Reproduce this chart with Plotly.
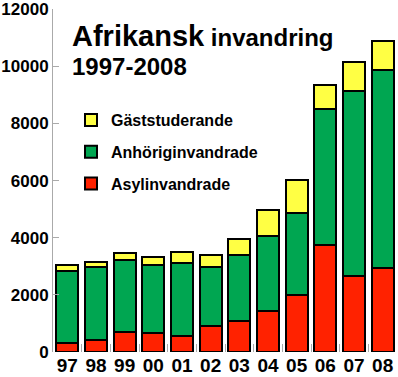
import plotly.graph_objects as go

years = ["97", "98", "99", "00", "01", "02", "03", "04", "05", "06", "07", "08"]
asyl = [330, 420, 700, 665, 570, 910, 1075, 1435, 1985, 3730, 2660, 2950]
anhorig = [2515, 2540, 2520, 2390, 2530, 2075, 2330, 2610, 2880, 4795, 6485, 6920]
gast = [200, 190, 230, 265, 390, 405, 535, 935, 1155, 815, 1015, 1010]

y_ticks = [0, 2000, 4000, 6000, 8000, 10000, 12000]

FONT = "Liberation Sans, Arial, sans-serif"
W, H = 398, 377
L, R, T, B = 53, 1, 9, 25

fig = go.Figure()
series = [("Asylinvandrade", asyl, "#FF2200", 3),
          ("Anhöriginvandrade", anhorig, "#00A651", 2),
          ("Gäststuderande", gast, "#FFFF44", 1)]
for name, vals, col, rank in series:
    fig.add_trace(go.Bar(
        x=years, y=vals, name=name, legendgroup=name, legendrank=rank,
        marker=dict(color=col, line=dict(color="black", width=2)),
    ))

pw = W - L - R
ph = H - T - B
def px_x(px):
    return (px - L) / pw
def px_y(py):
    return (H - B - py) / ph

fig.add_annotation(
    xref="paper", yref="paper", x=px_x(70), y=px_y(47), xanchor="left", yanchor="bottom",
    text="<b>Afrikansk</b><span style='font-size:24px'><b> invandring</b></span>",
    showarrow=False, font=dict(family=FONT, size=29, color="black"), yshift=-7,
)
fig.add_annotation(
    xref="paper", yref="paper", x=px_x(70), y=px_y(76), xanchor="left", yanchor="bottom",
    text="<b>1997-2008</b>",
    showarrow=False, font=dict(family=FONT, size=24, color="black"), yshift=-6,
)

fig.update_layout(
    width=W, height=H,
    margin=dict(l=L, r=R, t=T, b=B, pad=0, autoexpand=False),
    paper_bgcolor="white", plot_bgcolor="white",
    barmode="stack", bargap=0.23,
    font=dict(family=FONT, color="black"),
    showlegend=True,
    legend=dict(
        x=px_x(71), y=px_y(103), xanchor="left", yanchor="top",
        traceorder="grouped", tracegroupgap=8,
        font=dict(family=FONT, size=16, color="black", weight="bold"),
        bgcolor="rgba(0,0,0,0)", borderwidth=0,
    ),
    xaxis=dict(
        automargin=False, tickangle=0,
        showline=False, showgrid=False, zeroline=False,
        ticks="inside", tickson="boundaries", ticklen=8, tickcolor="#aaaaaa", tickwidth=1,
        tickfont=dict(family=FONT, size=19, color="black", weight="bold"),
    ),
    yaxis=dict(
        automargin=False,
        range=[0, 12010], tickvals=y_ticks, ticktext=[str(v) for v in y_ticks],
        showline=True, linecolor="#aaaaaa", linewidth=1,
        showgrid=False, zeroline=False,
        ticks="inside", ticklen=6, tickcolor="#aaaaaa", tickwidth=1,
        tickfont=dict(family=FONT, size=17, color="black", weight="bold"),
    ),
)

fig.write_html("out.html", config={"displayModeBar": False},
               post_script="document.body.style.margin='0';")
